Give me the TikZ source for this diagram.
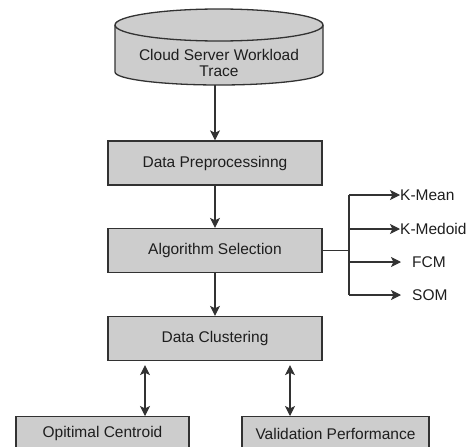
\documentclass[tikz,border=0pt]{standalone}
\usepackage{fontspec}
\setmainfont{Liberation Sans}
\usetikzlibrary{arrows.meta}
\definecolor{boxfill}{RGB}{205,205,205}
\definecolor{edge}{RGB}{50,50,50}
\definecolor{txt}{RGB}{30,30,30}
\begin{document}
\begin{tikzpicture}[x=1pt,y=-1pt,
  every node/.style={font=\fontsize{15.5}{16}\selectfont, text=txt},
  procbox/.style={draw=edge, fill=boxfill, line width=1.3pt, minimum width=214pt, minimum height=44pt, inner sep=0pt},
  lowbox/.style={draw=edge, fill=boxfill, line width=1.3pt, minimum height=34pt, inner sep=0pt, anchor=north},
  conn/.style={draw=edge, line width=1.1pt},
  tip/.style={-{Stealth[length=10pt,width=10pt,inset=2.5pt]}},
  dtip/.style={{Stealth[length=10pt,width=10pt,inset=2.5pt]}-{Stealth[length=10pt,width=10pt,inset=2.5pt]}},
  lbl/.style={anchor=west, inner sep=0pt}
]
\useasboundingbox (0,0) rectangle (474,447);
% cylinder
\path[fill=boxfill, draw=edge, line width=1.3pt]
  (115,25) -- (115,72) arc[start angle=180,end angle=360,x radius=104pt,y radius=13pt]
  -- (323,25) arc[start angle=0,end angle=180,x radius=104pt,y radius=16pt] -- cycle;
\draw[edge, line width=1.3pt] (115,25) arc[start angle=180,end angle=360,x radius=104pt,y radius=16pt];
\node[align=center, inner sep=0pt] (cyl) at (219,63) {Cloud Server Workload\\Trace};

\node[procbox] (dp) at (215,163) {Data Preprocessinng};
\node[procbox] (alg) at (215,250.5) {Algorithm Selection};
\node[procbox] (dc) at (215,338.5) {Data Clustering};
\node[lowbox, minimum width=173pt] (oc) at (102.5,416) {Opitimal Centroid};
\node[lowbox, minimum width=187pt] (vp) at (335.5,416) {Validation Performance};
\coordinate (cylbot) at (dp.north |- 0,85);

\draw[conn,tip] (cylbot) -- (dp.north);
\draw[conn,tip] (dp.south) -- (alg.north);
\draw[conn,tip] (alg.south) -- (dc.north);

\draw[conn,dtip] ([xshift=-70pt,yshift=-4pt]dc.south) -- ([xshift=42.5pt]oc.north);
\draw[conn,dtip] ([xshift=75pt,yshift=-4pt]dc.south) -- ([xshift=-45.5pt]vp.north);

% branch
\coordinate (j) at (349,250.5);
\coordinate (jt) at (349,195);
\coordinate (jb) at (349,295);
\node[lbl] (km) at (400,195) {K-Mean};
\node[lbl] (kd) at (400,229) {K-Medoid};
\node[lbl] (fcm) at (412,262) {FCM};
\node[lbl] (som) at (412,295) {SOM};
\draw[conn] (alg.east) -- (j);
\draw[conn] (jt) -- (jb);
\draw[conn,tip] (jt) -- (km.west);
\draw[conn,tip] (jt |- kd.west) -- (kd.west);
\draw[conn,tip] (jt |- fcm.west) -- ([xshift=-11pt]fcm.west);
\draw[conn,tip] (jb) -- ([xshift=-11pt]som.west);
\end{tikzpicture}
\end{document}
